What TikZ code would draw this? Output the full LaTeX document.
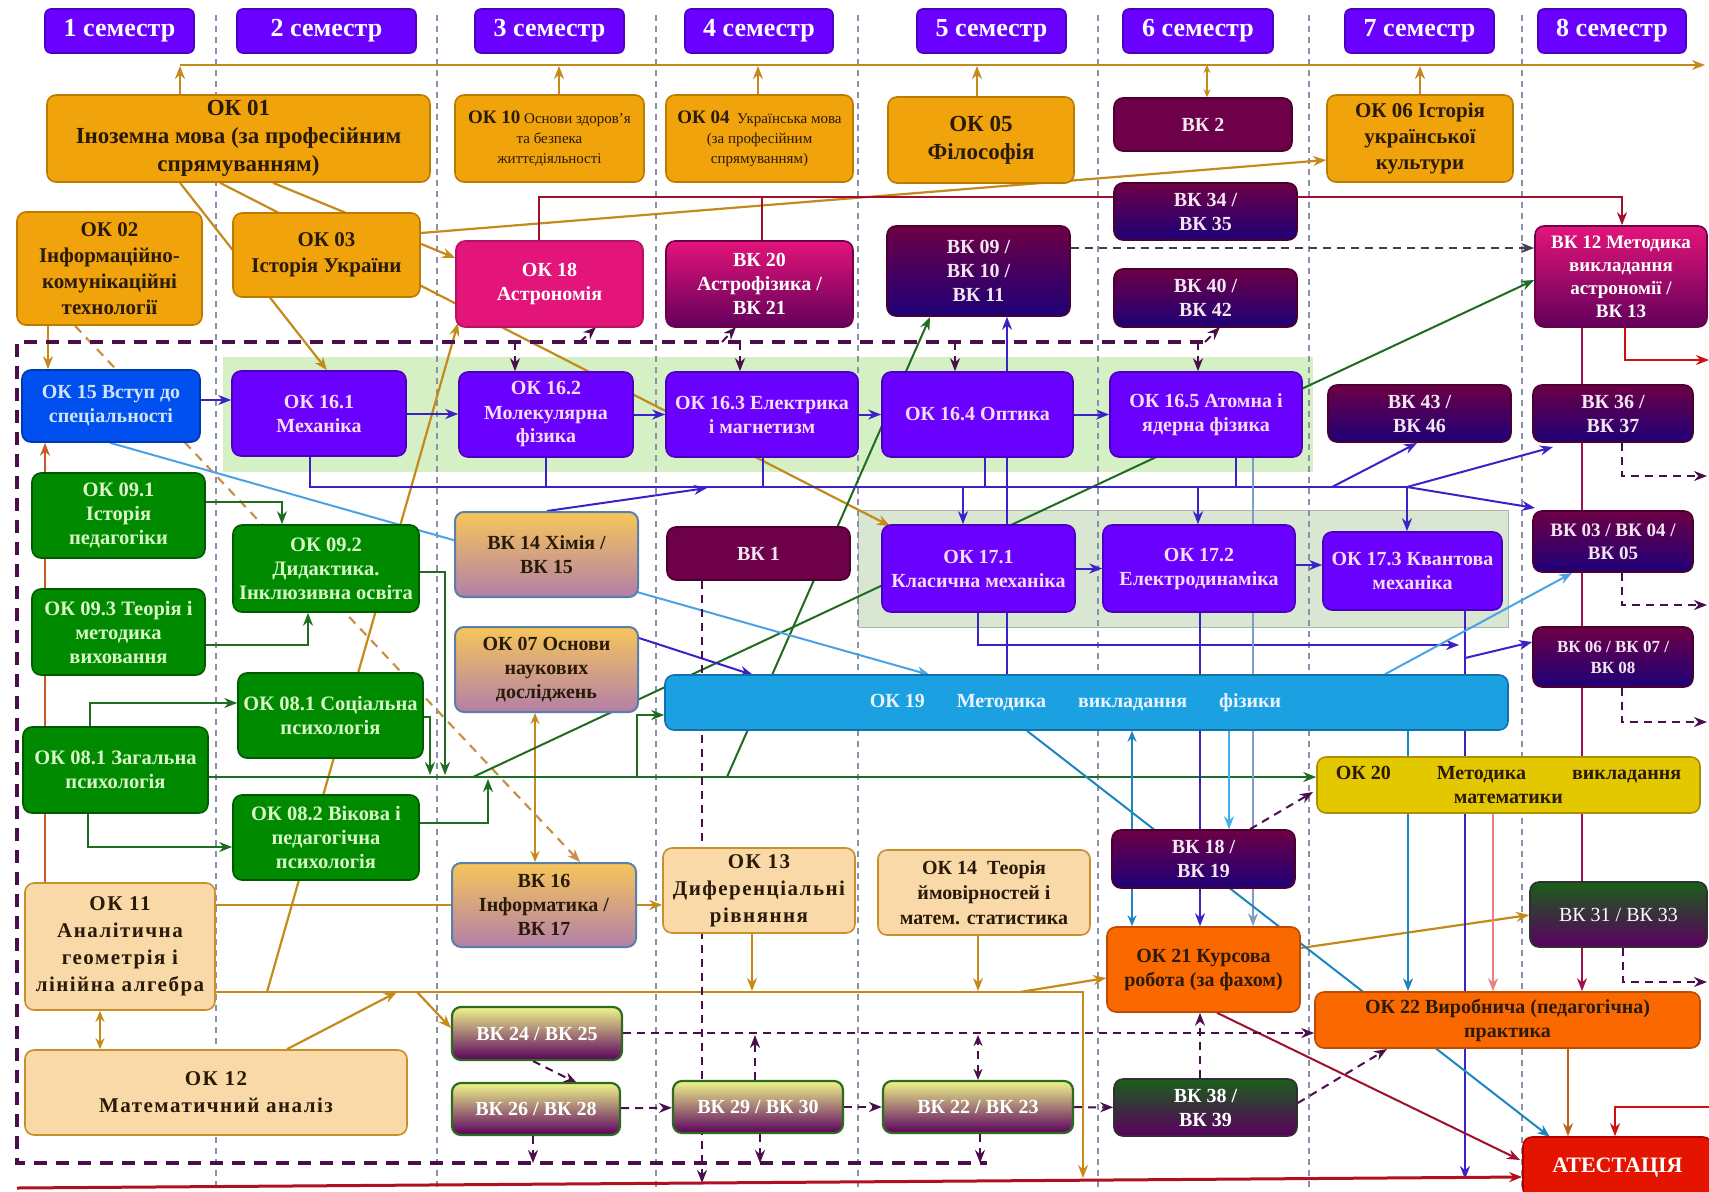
\documentclass[tikz,border=0pt]{standalone}
\usepackage{fontspec}
\setmainfont{Liberation Serif}
\usetikzlibrary{arrows.meta}
\definecolor{cGold}{HTML}{C48A1C}
\definecolor{cOrange}{HTML}{F0A30A}
\definecolor{cOrangeD}{HTML}{BD7A00}
\definecolor{cPeach}{HTML}{FAD9A8}
\definecolor{cPeachD}{HTML}{C8902A}
\definecolor{cViolet}{HTML}{6A00FF}
\definecolor{cVioletD}{HTML}{4B00C0}
\definecolor{cPinkT}{HTML}{F8DDF4}
\definecolor{cGreen}{HTML}{008A00}
\definecolor{cGreenD}{HTML}{005A00}
\definecolor{cGreenT}{HTML}{D8F8C8}
\definecolor{cBlue15}{HTML}{0050EF}
\definecolor{cBlue15D}{HTML}{0038B0}
\definecolor{cBlue15T}{HTML}{D0E4FF}
\definecolor{cCyan}{HTML}{1BA1E2}
\definecolor{cCyanD}{HTML}{1070B0}
\definecolor{cCyanT}{HTML}{E8F4FF}
\definecolor{cYellow}{HTML}{E3C800}
\definecolor{cYellowD}{HTML}{A89000}
\definecolor{cOr2}{HTML}{FA6800}
\definecolor{cOr2D}{HTML}{C04A00}
\definecolor{cRed}{HTML}{E51400}
\definecolor{cRedD}{HTML}{B00000}
\definecolor{cPink}{HTML}{E3147A}
\definecolor{cVKtop}{HTML}{6D0045}
\definecolor{cVKbot}{HTML}{1E0078}
\definecolor{cVKm}{HTML}{6D0048}
\definecolor{cVKT}{HTML}{F3E6F3}
\definecolor{cBand}{HTML}{D5F0C5}
\definecolor{cBand2}{HTML}{D8E6D2}
\definecolor{cBand2D}{HTML}{A8B8A8}
\definecolor{cChemT}{HTML}{F7C65A}
\definecolor{cChemB}{HTML}{B27FA8}
\definecolor{cChemD}{HTML}{5A7FA8}
\definecolor{cLimeT}{HTML}{EEF58A}
\definecolor{cLimeB}{HTML}{5A005E}
\definecolor{cLimeD}{HTML}{2E6B1E}
\definecolor{cGpT}{HTML}{1A5E1A}
\definecolor{cGpB}{HTML}{5A0060}
\definecolor{cGpD}{HTML}{303030}
\definecolor{cDashP}{HTML}{4A0F4A}
\definecolor{cDashG}{HTML}{4A3A50}
\definecolor{cSep}{HTML}{8A90A8}
\definecolor{cBus}{HTML}{3A22C8}
\definecolor{cDG}{HTML}{1F6B1F}
\definecolor{cLB}{HTML}{4AA3E6}
\definecolor{cLB2}{HTML}{40B0F0}
\definecolor{cTeal}{HTML}{1C86C0}
\definecolor{cMaroon}{HTML}{A0102C}
\definecolor{cSalmon}{HTML}{EC8080}
\definecolor{cSteel}{HTML}{7D9CC8}
\definecolor{cBrn}{HTML}{C85A28}
\definecolor{cBrn2}{HTML}{C06020}
\definecolor{cDor}{HTML}{C8904A}
\definecolor{cRdl}{HTML}{D01010}
\definecolor{cBot}{HTML}{B01020}
\definecolor{cDark}{HTML}{2A1A08}
\definecolor{cMag}{HTML}{A01050}
\pgfdeclarelayer{back}
\pgfdeclarelayer{bg}
\pgfsetlayers{back,bg,main}
\newcommand{\bx}[7]{\node[#1, minimum width={#5-#3}, minimum height={#6-#4}] (#2) at ({(#3+#5)/2},{(#4+#6)/2}) {#7};}
\tikzset{
 base/.style={rounded corners=9pt, line width=1.6pt, align=center, inner sep=1pt, font=\bfseries\fontsize{20}{24}\selectfont},
 hdr/.style={base, fill=cViolet, draw=cVioletD, text=white, rounded corners=6pt, font=\bfseries\fontsize{26}{30}\selectfont},
 orng/.style={base, fill=cOrange, draw=cOrangeD, text=cDark, font=\bfseries\fontsize{21}{26}\selectfont},
 big/.style={font=\bfseries\fontsize{23}{28}\selectfont},
 small/.style={font=\mdseries\fontsize{15}{20}\selectfont},
 peach/.style={base, fill=cPeach, draw=cPeachD, text=cDark, font=\bfseries\fontsize{21}{27}\selectfont},
 wide/.style={font=\bfseries\fontsize{21}{27}\selectfont\addfontfeature{LetterSpace=7}},
 viol/.style={base, fill=cViolet, draw=cVioletD, text=cPinkT},
 grn/.style={base, fill=cGreen, draw=cGreenD, text=cGreenT, font=\bfseries\fontsize{20.5}{24}\selectfont},
 vkp/.style={base, top color=cVKtop, bottom color=cVKbot, draw=cVKtop!70!black, text=cVKT},
 vkm/.style={base, fill=cVKm, draw=cVKm!70!black, text=cVKT},
 pinkb/.style={base, fill=cPink, draw=cPink!80!black, text=white},
 vkpink/.style={base, top color=cPink, bottom color=cVKm!90!blue, draw=cVKm, text=white},
 chem/.style={base, top color=cChemT, bottom color=cChemB, draw=cChemD, line width=2pt, text=cDark},
 lime/.style={base, top color=cLimeT, bottom color=cLimeB, draw=cLimeD, line width=2.2pt, text=white},
 gpur/.style={base, top color=cGpT, bottom color=cGpB, draw=cGpD, text=white},
 cyanb/.style={base, fill=cCyan, draw=cCyanD, text=cCyanT},
 yel/.style={base, fill=cYellow, draw=cYellowD, text=cDark},
 or2/.style={base, fill=cOr2, draw=cOr2D, text=cDark},
 attb/.style={base, fill=cRed, draw=cRedD, text=white, font=\bfseries\fontsize{22}{26}\selectfont},
 ok15s/.style={base, fill=cBlue15, draw=cBlue15D, text=cBlue15T},
 arr/.style={-{Stealth[length=13pt,width=10pt]}},
 darr/.style={{Stealth[length=11pt,width=9pt]}-{Stealth[length=11pt,width=9pt]}},
 darrs/.style={{Stealth[length=8pt,width=7pt]}-{Stealth[length=8pt,width=7pt]}},
 gl/.style={draw=cGold, line width=2.2pt},
 brn/.style={draw=cBrn, line width=2.2pt},
 dor/.style={draw=cDor, line width=2.2pt, dash pattern=on 9pt off 7pt},
 mar/.style={draw=cMaroon, line width=2pt},
 dg/.style={draw=cDG, line width=2pt},
 vb/.style={draw=cBus, line width=2pt},
 steel/.style={draw=cSteel, line width=2pt},
 lb/.style={draw=cLB, line width=2pt},
 lbb/.style={draw=cLB2, line width=2pt},
 tl/.style={draw=cTeal, line width=2pt},
 salm/.style={draw=cSalmon, line width=2pt},
 mag/.style={draw=cMag, line width=2pt},
 rd/.style={draw=cRdl, line width=2.2pt},
 dp/.style={draw=cDashP, line width=2pt, dash pattern=on 8pt off 6pt},
 bigdash/.style={draw=cDashP, line width=3.5pt, dash pattern=on 13pt off 9pt},
 sepl/.style={draw=cSep, line width=1.6pt, dash pattern=on 6pt off 5pt},
}
\begin{document}
\begin{tikzpicture}[x=1pt,y=-1pt,line join=round]
\useasboundingbox (0,0) rectangle (1709,1192);
\begin{pgfonlayer}{back}
\fill[white] (0,0) rectangle (1709,1192);
\fill[cBand] (223,357) rectangle (1313,472);
\filldraw[fill=cBand2, draw=cBand2D, line width=1pt] (858,510) rectangle (1508,627);
\foreach \x in {216,437,656,858,1098,1309,1522} \draw[sepl] (\x,15) -- (\x,1192);
\end{pgfonlayer}

% headers
\bx{hdr}{s1}{45}{9}{194}{53}{1 семестр}
\bx{hdr}{s2}{237}{9}{416}{53}{2 семестр}
\bx{hdr}{s3}{475}{9}{624}{53}{3 семестр}
\bx{hdr}{s4}{685}{9}{833}{53}{4 семестр}
\bx{hdr}{s5}{917}{9}{1066}{53}{5 семестр}
\bx{hdr}{s6}{1123}{9}{1273}{53}{6 семестр}
\bx{hdr}{s7}{1345}{9}{1494}{53}{7 семестр}
\bx{hdr}{s8}{1538}{9}{1686}{53}{8 семестр}

% orange
\bx{orng,big}{ok01}{47}{95}{430}{182}{ОК 01\\Іноземна мова (за професійним\\спрямуванням)}
\bx{orng}{ok02}{17}{212}{202}{325}{ОК 02\\Інформаційно-\\комунікаційні\\технології}
\bx{orng}{ok03}{233}{213}{420}{297}{ОК 03\\Історія України}
\bx{orng,small}{ok10}{455}{95}{644}{182}{{\bfseries\fontsize{19}{19}\selectfont ОК 10} Основи здоров’я\\та безпека\\життєдіяльності}
\bx{orng,small}{ok04}{666}{95}{853}{182}{{\bfseries\fontsize{19}{19}\selectfont ОК 04}\ \ Українська мова\\(за професійним\\спрямуванням)}
\bx{orng,big}{ok05}{888}{97}{1074}{183}{ОК 05\\Філософія}
\bx{orng}{ok06}{1327}{95}{1513}{182}{ОК 06 Історія\\української\\культури}

% top purple
\bx{vkm}{vk2}{1114}{98}{1292}{151}{ВК 2}
\bx{vkp}{vk34}{1114}{183}{1297}{240}{ВК 34 /\\ВК 35}
\bx{vkp}{vk40}{1114}{269}{1297}{327}{ВК 40 /\\ВК 42}
\bx{vkp}{vk09}{887}{226}{1070}{316}{ВК 09 /\\ВК 10 /\\ВК 11}
\bx{pinkb}{ok18}{456}{241}{643}{327}{ОК 18\\Астрономія}
\bx{vkpink}{vk20}{666}{241}{853}{327}{ВК 20\\Астрофізика /\\ВК 21}
\bx{vkpink,font=\bfseries\fontsize{19}{23}\selectfont}{vk12}{1535}{226}{1707}{327}{ВК 12 Методика\\викладання\\астрономії /\\ВК 13}

% physics row
\bx{ok15s}{ok15}{22}{370}{200}{442}{ОК 15 Вступ до\\спеціальності}
\bx{viol}{ok161}{232}{371}{406}{456}{ОК 16.1\\Механіка}
\bx{viol}{ok162}{459}{372}{633}{457}{ОК 16.2\\Молекулярна\\фізика}
\bx{viol}{ok163}{666}{372}{858}{457}{ОК 16.3 Електрика\\і магнетизм}
\bx{viol}{ok164}{882}{372}{1073}{457}{ОК 16.4 Оптика}
\bx{viol}{ok165}{1110}{372}{1302}{457}{ОК 16.5 Атомна і\\ядерна фізика}
\bx{viol}{ok171}{882}{525}{1075}{612}{ОК 17.1\\Класична механіка}
\bx{viol}{ok172}{1103}{525}{1295}{612}{ОК 17.2\\Електродинаміка}
\bx{viol}{ok173}{1323}{532}{1502}{610}{ОК 17.3 Квантова\\механіка}

\bx{vkp}{vk43}{1328}{385}{1511}{442}{ВК 43 /\\ВК 46}
\bx{vkp}{vk36}{1533}{385}{1693}{442}{ВК 36 /\\ВК 37}
\bx{vkp,font=\bfseries\fontsize{19}{23}\selectfont}{vk03}{1533}{511}{1693}{572}{ВК 03 / ВК 04 /\\ВК 05}
\bx{vkp,font=\bfseries\fontsize{17}{21}\selectfont}{vk06}{1533}{627}{1693}{687}{ВК 06 / ВК 07 /\\ВК 08}

% green
\bx{grn}{ok091}{32}{473}{205}{558}{ОК 09.1\\Історія\\педагогіки}
\bx{grn}{ok092}{233}{525}{419}{612}{ОК 09.2\\Дидактика.\\Інклюзивна освіта}
\bx{grn}{ok093}{32}{589}{205}{675}{ОК 09.3 Теорія і\\методика\\виховання}
\bx{grn}{ok081s}{238}{673}{423}{758}{ОК 08.1 Соціальна\\психологія}
\bx{grn}{ok081z}{23}{727}{208}{813}{ОК 08.1 Загальна\\психологія}
\bx{grn}{ok082}{233}{795}{419}{880}{ОК 08.2 Вікова і\\педагогічна\\психологія}

% middle
\bx{chem}{vk14}{455}{512}{638}{597}{ВК 14 Хімія /\\ВК 15}
\bx{chem}{ok07}{455}{627}{638}{712}{ОК 07 Основи\\наукових\\досліджень}
\bx{chem}{vk16}{452}{863}{636}{947}{ВК 16\\Інформатика /\\ВК 17}
\bx{vkm}{vk1}{667}{527}{850}{580}{ВК 1}
\bx{cyanb}{ok19}{665}{675}{1508}{730}{ОК 19\hspace{32pt}Методика\hspace{32pt}викладання\hspace{32pt}фізики\hspace{22pt}}
\bx{yel}{ok20}{1317}{757}{1700}{813}{ОК 20\hspace{46pt}Методика\hspace{46pt}викладання\\математики}

% peach
\bx{peach,wide}{ok11}{25}{883}{215}{1010}{ОК 11\\Аналітична\\геометрія і\\лінійна алгебра}
\bx{peach,wide}{ok12}{25}{1050}{407}{1135}{ОК 12\\Математичний аналіз}
\bx{peach,wide}{ok13}{663}{848}{855}{933}{ОК 13\\Диференціальні\\рівняння}
\bx{peach,font=\bfseries\fontsize{20}{25}\selectfont}{ok14}{878}{850}{1090}{935}{ОК 14\ \ Теорія\\ймовірностей і\\матем. статистика}

% bottom
\bx{lime}{vk24}{452}{1007}{622}{1060}{ВК 24 / ВК 25}
\bx{lime}{vk26}{452}{1083}{620}{1135}{ВК 26 / ВК 28}
\bx{lime}{vk29}{673}{1081}{843}{1133}{ВК 29 / ВК 30}
\bx{lime}{vk22}{883}{1081}{1073}{1133}{ВК 22 / ВК 23}
\bx{gpur}{vk38}{1114}{1079}{1297}{1136}{ВК 38 /\\ВК 39}
\bx{gpur,font=\mdseries\fontsize{20}{24}\selectfont}{vk31}{1530}{882}{1707}{947}{ВК 31 / ВК 33}
\bx{vkp}{vk18}{1112}{830}{1295}{888}{ВК 18 /\\ВК 19}
\bx{or2}{ok21}{1107}{927}{1300}{1012}{ОК 21 Курсова\\робота (за фахом)}
\bx{or2}{ok22}{1315}{992}{1700}{1048}{ОК 22 Виробнича (педагогічна)\\практика}
\bx{attb}{att}{1523}{1137}{1712}{1198}{АТЕСТАЦІЯ}

\begin{pgfonlayer}{bg}
% gold
\draw[gl,arr] (180,65) -- (1705,65);
\draw[gl,arr] (ok01.north -| 180,0) -- (180,66);
\draw[gl,arr] (ok10.north -| 559,0) -- (559,66);
\draw[gl,arr] (ok04.north -| 758,0) -- (758,66);
\draw[gl,arr] (ok05.north -| 977,0) -- (977,66);
\draw[gl,darrs] (vk2.north -| 1207,0) -- (1207,65);
\draw[gl,arr] (ok06.north -| 1420,0) -- (1420,66);
\draw[gl,arr] (ok01.south -| 180,0) -- (ok161.north -| 327,0);
\draw[gl,arr] (ok01.south -| 273,0) -- (ok18.west |- 0,258);
\draw[gl,arr] (ok01.south -| 220,0) -- (890,526);
\draw[gl,arr] (ok03.east |- 0,233) -- (ok06.west |- 0,160);
\draw[gl,arr] (ok02.south -| 48,0) -- (ok15.north -| 48,0);
\draw[gl,arr] (ok11.east |- 0,905) -- (ok13.west |- 0,905);
\draw[gl,arr] (ok11.east |- 0,992) -- (1083,992) -- (1083,1178);
\draw[gl,arr] (1020,992) -- (ok21.west |- 0,978);
\draw[gl,arr] (ok12.north -| 287,0) -- (397,992);
\draw[gl,arr] (417,992) -- (vk24.west |- 0,1028);
\draw[gl,arr] (ok13.south -| 752,0) -- (752,991);
\draw[gl,arr] (ok14.south -| 978,0) -- (978,991);
\draw[gl,arr] (267,992) -- (458,323);
\draw[gl,darr] (ok11.south -| 100,0) -- (ok12.north -| 100,0);
\draw[gl,darr] (ok07.south -| 535,0) -- (vk16.north -| 535,0);
\draw[gl,arr] (ok21.east |- 0,948) -- (vk31.west |- 0,915);
\draw[brn,arr] (ok11.north -| 45,0) -- (ok15.south -| 45,0);
\draw[dor,arr] (ok02.south -| 75,0) -- (vk16.north -| 580,0);
% maroon
\draw[mar,arr] (ok18.north -| 539,0) |- (1622,197) -- (vk12.north -| 1622,0);
\draw[mar] (vk20.north -| 762,0) -- (762,197);
% green
\draw[dg,arr] (ok091.east |- 0,502) -| (ok092.north -| 282,0);
\draw[dg,arr] (ok093.east |- 0,645) -| (ok092.south -| 308,0);
\draw[dg,arr] (ok081z.north -| 90,0) |- (ok081s.west |- 0,703);
\draw[dg,arr] (ok081z.south -| 88,0) |- (ok082.west |- 0,847);
\draw[dg,arr] (ok081z.east |- 0,777) -- (ok20.west |- 0,777);
\draw[dg,arr] (ok081s.east |- 0,717) -| (430,775);
\draw[dg,arr] (ok092.east |- 0,572) -| (445,775);
\draw[dg,arr] (ok082.east |- 0,823) -| (488,779);
\draw[dg,arr] (637,777) |- (ok19.west |- 0,715);
\draw[dg,arr] (473,777) -- (vk12.west |- 0,280);
\draw[dg,arr] (727,777) -- (930,317);
% violet-blue
\draw[vb,arr] (ok15.east |- 0,400) -- (ok161.west |- 0,400);
\draw[vb,arr] (ok161.east |- 0,414) -- (ok162.west |- 0,414);
\draw[vb,arr] (ok162) -- (ok163);
\draw[vb,arr] (ok163) -- (ok164);
\draw[vb,arr] (ok164) -- (ok165);
\draw[vb,arr] (ok171) -- (ok172);
\draw[vb,arr] (ok172.east |- 0,565) -- (ok173.west |- 0,565);
\draw[vb] (ok161.south -| 310,0) |- (1407,487);
\draw[vb] (ok162.south -| 546,0) -- (546,487);
\draw[vb] (ok163.south -| 763,0) -- (763,487);
\draw[vb] (ok164.south -| 985,0) -- (985,487);
\draw[vb] (ok165.south -| 1236,0) -- (1236,487);
\draw[vb,arr] (963,487) -- (ok171.north -| 963,0);
\draw[vb,arr] (1198,487) -- (ok172.north -| 1198,0);
\draw[vb,arr] (1407,487) -- (ok173.north -| 1407,0);
\draw[vb,arr] (1332,487) -- (1417,443);
\draw[vb,arr] (1407,487) -- (1553,447);
\draw[vb,arr] (1407,487) -- (1535,508);
\draw[vb,arr] (vk14.north -| 547,0) -- (707,488);
\draw[vb,arr] (ok07.east |- 0,638) -- (753,675);
\draw[vb,arr] (ok164.north -| 1007,0) -- (vk09.south -| 1007,0);
\draw[vb] (ok164.south -| 1007,0) -- (ok19.north -| 1007,0);
\draw[vb,arr] (ok171.south -| 978,0) |- (1459,645);
\draw[vb,arr] (ok173.south -| 1465,0) -- (1465,1179);
\draw[vb,arr] (1465,658) -- (vk06.west |- 0,642);
\draw[vb,arr] (ok172.south -| 1200,0) -- (ok21.north -| 1200,0);
\draw[steel,arr] (ok165.south -| 1253,0) -- (ok21.north -| 1253,0);
% blues from OK19
\draw[lb,arr] (ok19.north -| 1385,0) -- (1572,573);
\draw[tl,arr] (ok19.south -| 1408,0) -- (ok22.north -| 1408,0);
\draw[tl,darr] (ok19.south -| 1132,0) -- (ok21.north -| 1132,0);
\draw[lbb,arr] (ok19.south -| 1229,0) -- (vk18.north -| 1229,0);
\draw[tl,arr] (ok19.south -| 1027,0) -- (1550,1137);
\draw[lb,arr] (ok15.south -| 110,0) -- (930,675);
% others
\draw[salm,arr] (ok20.south -| 1493,0) -- (ok22.north -| 1493,0);
\draw[mag] (vk12.south -| 1582,0) -- (vk31.north -| 1582,0);
\draw[mag,arr] (vk31.south -| 1582,0) -- (ok22.north -| 1582,0);
\draw[rd,arr] (vk12.south -| 1625,0) |- (1709,360);
\draw[mar,arr] (ok21.south -| 1217,0) -- (1520,1160);
\draw[draw=cBrn2,line width=2pt,arr] (ok22.south -| 1568,0) -- (att.north -| 1568,0);
\draw[rd,arr] (1712,1107) -| (att.north -| 1615,0);
\draw[draw=cBot,line width=3pt,arr] (17,1188) -- (att.west |- 0,1177);
% dashed
\draw[dp,arr,draw=cDashG] (vk09.east |- 0,248) -- (vk12.west |- 0,248);
\draw[bigdash] (1203,342) -- (17,342) -- (17,1163) -- (987,1163);
\draw[dp,arr] (515,342) -- (ok162.north -| 515,0);
\draw[dp,arr] (740,342) -- (ok163.north -| 740,0);
\draw[dp,arr] (955,342) -- (ok164.north -| 955,0);
\draw[dp,arr] (1198,342) -- (ok165.north -| 1198,0);
\draw[dp,arr] (580,342) -- (596,327);
\draw[dp,arr] (722,342) -- (736,327);
\draw[dp,arr] (1205,342) -- (1220,327);
\draw[dp,arr] (vk1.south -| 702,0) -- (702,1183);
\draw[dp,arr] (vk24.east |- 0,1033) -- (ok22.west |- 0,1033);
\draw[dp,arr] (vk24.south -| 533,0) -- (577,1083);
\draw[dp,arr] (vk26) -- (vk29);
\draw[dp,arr] (vk29) -- (vk22);
\draw[dp,arr] (vk22) -- (vk38);
\draw[dp,arr] (vk38.east |- 0,1103) -- (1387,1049);
\draw[dp,arr] (vk38.north -| 1200,0) -- (ok21.south -| 1200,0);
\draw[dp,arr] (vk18.north -| 1250,0) -- (1313,792);
\draw[dp,arr] (vk29.north -| 755,0) -- (755,1035);
\draw[dp,darr] (vk22.north -| 978,0) -- (978,1035);
\draw[dp,arr] (vk26.south -| 533,0) -- (533,1163);
\draw[dp,arr] (vk29.south -| 760,0) -- (760,1163);
\draw[dp,arr] (vk22.south -| 980,0) -- (980,1163);
\draw[dp,arr] (vk36.south -| 1622,0) |- (1707,476);
\draw[dp,arr] (vk03.south -| 1622,0) |- (1707,605);
\draw[dp,arr] (vk06.south -| 1622,0) |- (1707,722);
\draw[dp,arr] (vk31.south -| 1623,0) |- (1707,982);
\end{pgfonlayer}
\end{tikzpicture}
\end{document}
